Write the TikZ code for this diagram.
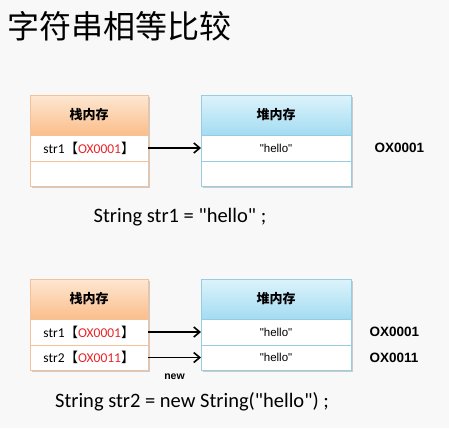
\documentclass[tikz,border=0pt]{standalone}
\usepackage{fontspec}
\setmainfont{Carlito}[Ligatures=TeXOff]
\newfontfamily\cjk{Noto Sans CJK SC}
\newfontfamily\arialfont{Liberation Sans}[Ligatures=TeXOff]
\usetikzlibrary{positioning,arrows.meta,shadows}

\definecolor{pagebg}{HTML}{F8F8F8}
\definecolor{stacktop}{HTML}{FDE7D2}
\definecolor{stackbot}{HTML}{FBBE8A}
\definecolor{stackline}{HTML}{F3C29C}
\definecolor{heaptop}{HTML}{DDF3FB}
\definecolor{heapbot}{HTML}{A3DCF2}
\definecolor{heapline}{HTML}{98CCE0}
\definecolor{addrred}{HTML}{E8262A}

\begin{document}
\begin{tikzpicture}[x=1pt,y=-1pt]
        \tikzset{
            boxshadow/.style={drop shadow={shadow xshift=1.5pt,shadow yshift=-1.5pt,fill=black,opacity=.18}},
            cell/.style={minimum width=#1,inner sep=0pt,outer sep=0pt,line width=.8pt},
            stackhead/.style={cell=118pt,minimum height=40pt,draw=stackline,
              top color=stacktop,bottom color=stackbot,boxshadow,font=\cjk\bfseries\fontsize{13}{15}\selectfont},
            stackrow/.style={cell=118pt,draw=stackline,fill=white,boxshadow,
              font=\fontsize{13.5}{15}\selectfont},
            heaphead/.style={cell=150pt,minimum height=40pt,draw=heapline,
              top color=heaptop,bottom color=heapbot,boxshadow,font=\cjk\bfseries\fontsize{13}{15}\selectfont},
            heaprow/.style={cell=150pt,draw=heapline,fill=white,boxshadow,
              font=\arialfont\fontsize{11.5}{13}\selectfont},
            addr/.style={font=\arialfont\bfseries\fontsize{13.5}{15}\selectfont,anchor=west},
            ptr/.style={line width=1.7pt,-{Straight Barb[length=6pt,width=10pt,line width=1.6pt]}},
            codeline/.style={font=\fontsize{20.5}{24}\selectfont}
          }

        \fill[pagebg] (0,0) rectangle (449,428);
        \node[anchor=west,font=\cjk\fontsize{32}{36}\selectfont,inner sep=0pt] (title) at (7,26) {字符串相等比较};

        % first case
        \node[stackhead,anchor=north west] (sh1) at (30,95) {栈内存};
        \node[stackrow,minimum height=26pt,below=0pt of sh1] (sa1) {str1{\cjk【}{\color{addrred}OX0001}{\cjk】}};
        \node[stackrow,minimum height=25pt,below=0pt of sa1] (sb1) {};
        \node[heaphead,anchor=north west] (hh1) at (201,95) {堆内存};
        \node[heaprow,minimum height=26pt,below=0pt of hh1] (ha1) {"hello"};
        \node[heaprow,minimum height=25pt,below=0pt of ha1] (hb1) {};
        \draw[ptr] (sa1) -- (ha1);
        \node[addr] (ad1) at (371,148) {OX0001};
        \node[codeline] (code1) at (180,217) {String str1 = "hello" ;};

        % second case
        \node[stackhead,anchor=north west] (sh2) at (30,279) {栈内存};
        \node[stackrow,minimum height=26pt,below=0pt of sh2] (sa2) {str1{\cjk【}{\color{addrred}OX0001}{\cjk】}};
        \node[stackrow,minimum height=25pt,below=0pt of sa2] (sb2) {str2{\cjk【}{\color{addrred}OX0011}{\cjk】}};
        \node[heaphead,anchor=north west] (hh2) at (201,279) {堆内存};
        \node[heaprow,minimum height=26pt,below=0pt of hh2] (ha2) {"hello"};
        \node[heaprow,minimum height=25pt,below=0pt of ha2] (hb2) {"hello"};
        \draw[ptr] (sa2) -- (ha2);
        \draw[ptr] (sb2) -- (hb2) node[midway,below=12pt,font=\arialfont\bfseries\fontsize{10.5}{12}\selectfont] (newtag) {new};
        \node[addr] (ad2) at (366,332) {OX0001};
        \node[addr] (ad3) at (366,358) {OX0011};
        \node[codeline] (code2) at (192,402) {String str2 = new String("hello") ;};

        \useasboundingbox (0,0) rectangle (449,428);
    \end{tikzpicture}
\end{document}
